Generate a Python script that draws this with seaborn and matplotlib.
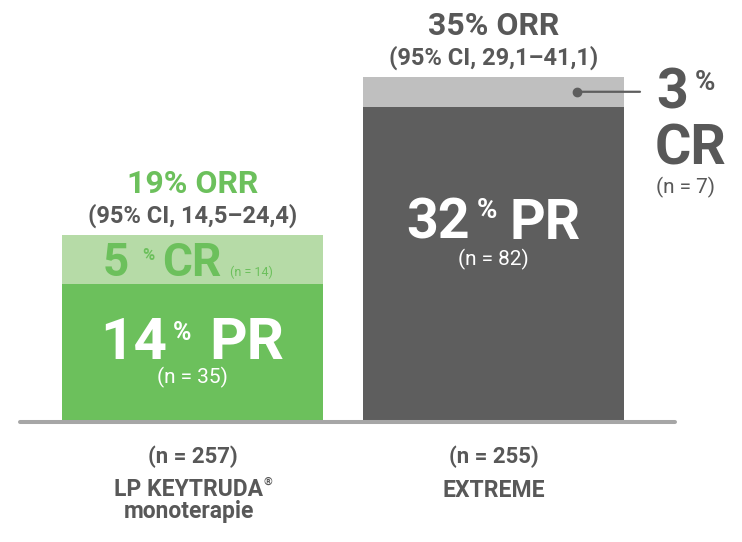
import matplotlib
matplotlib.use('Agg')
import matplotlib.pyplot as plt
from matplotlib.transforms import offset_copy
import seaborn as sns
import pandas as pd

''' DATA '''
groups = ['LP KEYTRUDA® monoterapie', 'EXTREME']
pr = [14, 32]            # partial response, %
cr = [5, 3]              # complete response, %
ci = ['14,5–24,4', '29,1–41,1']
n_pr = [35, 82]
n_cr = [14, 7]
n_total = [257, 255]

df = pd.DataFrame({'group': groups, 'PR': pr, 'CR': cr})
df['ORR'] = df['PR'] + df['CR']

''' STYLE '''
GREEN = '#6cc05c'
LIGHT_GREEN = '#b6dba7'
DARK_GRAY = '#5e5e5e'
LIGHT_GRAY = '#bfbfbf'
TXT = '#585858'
PX = 0.72   # points per pixel at dpi 100

sns.set_theme(style='white')
plt.rcParams['font.family'] = ['Roboto', 'DejaVu Sans']

fig = plt.figure(figsize=(7.42, 5.42), dpi=100)
ax = fig.add_axes([0, 0, 1, 1])

# stacked bars: total (CR colour) underneath, PR on top
sns.barplot(data=df, x='group', y='ORR', hue='group', palette=[LIGHT_GREEN, LIGHT_GRAY],
            width=0.867, saturation=1, legend=False, linewidth=0, ax=ax, zorder=1)
sns.barplot(data=df, x='group', y='PR', hue='group', palette=[GREEN, DARK_GRAY],
            width=0.867, saturation=1, legend=False, linewidth=0, ax=ax, zorder=2)

ax.set_xlim(-0.6395, 1.8256)
ax.set_ylim(-12.17, 42.81)
ax.axis('off')
ax.axhline(0, xmin=20 / 742, xmax=675 / 742, color='#a6a6a6', lw=2.9, zorder=3)


def label(x, y, s, dx=0, dy=0, **kw):
    '''text at data point (x, y) shifted by dx, dy pixels'''
    kw.setdefault('va', 'baseline')
    return ax.annotate(s, (x, y), xytext=(dx * PX, dy * PX),
                       textcoords='offset points', zorder=5, **kw)


# ORR headers above the bars
for i, row in df.iterrows():
    col = GREEN if i == 0 else TXT
    label(i, row['ORR'], f"{row['ORR']}% ORR", dy=42, ha='center',
          fontsize=23, fontweight='bold', color=col)
    label(i, row['ORR'], f'(95% CI, {ci[i]})', dy=12, ha='center',
          fontsize=17, fontweight='bold', color=TXT)
    label(i, 0, f'(n = {n_total[i]})', dy=-41, ha='center',
          fontsize=16, fontweight='bold', color=TXT)

# left bar: CR segment
label(0, pr[0], f'{cr[0]}', dx=-64, dy=8, ha='right', fontsize=33, fontweight='bold', color=GREEN)
label(0, pr[0], '%', dx=-50, dy=36, ha='left', va='top', fontsize=12, fontweight='bold', color=GREEN)
label(0, pr[0], 'CR', dx=-30, dy=8, ha='left', fontsize=33, fontweight='bold', color=GREEN)
label(0, pr[0], f'(n = {n_cr[0]})', dx=38, dy=8, ha='left', fontsize=9, color=GREEN)

# left bar: PR segment
mid = pr[0] / 2
label(0, mid, f'{pr[0]}', dx=-25.5, dy=-5.5, ha='right', fontsize=42, fontweight='bold', color='white')
label(0, mid, '%', dx=-19.5, dy=32.5, ha='left', va='top', fontsize=18, fontweight='bold', color='white')
label(0, mid, 'PR', dx=17, dy=-5.5, ha='left', fontsize=42, fontweight='bold', color='white')
label(0, mid, f'(n = {n_pr[0]})', dy=-30.5, ha='center', fontsize=15, color='white')

# right bar: PR segment
label(1, pr[1], f'{pr[1]}', dx=-23.5, dy=-132, ha='right', fontsize=40, fontweight='bold', color='white')
label(1, pr[1], '%', dx=-16.5, dy=-90, ha='left', va='top', fontsize=20, fontweight='bold', color='white')
label(1, pr[1], 'PR', dx=16, dy=-132, ha='left', fontsize=40, fontweight='bold', color='white')
label(1, pr[1], f'(n = {n_pr[1]})', dy=-159, ha='center', fontsize=15, color='white')

# right bar: CR call-out
cmid = pr[1] + cr[1] / 2
dot = offset_copy(ax.transData, fig=fig, x=83.5 * PX, y=0, units='points')
ax.plot([1], [cmid], 'o', ms=6, color=DARK_GRAY, transform=dot, zorder=5)
ax.annotate('', xy=(1, cmid), xytext=(146.5 * PX, 0), textcoords='offset points',
            arrowprops=dict(arrowstyle='-', color=DARK_GRAY, lw=1.6,
                            shrinkA=0, shrinkB=83.5 * PX), zorder=5)
label(1, cmid, f'{cr[1]}', dx=162.5, dy=-17, ha='left', fontsize=40, fontweight='bold', color=TXT)
label(1, cmid, '%', dx=201.5, dy=23, ha='left', va='top', fontsize=20, fontweight='bold', color=TXT)
label(1, cmid, 'CR', dx=161.5, dy=-73, ha='left', fontsize=40, fontweight='bold', color=TXT)
label(1, cmid, f'(n = {n_cr[1]})', dx=192.5, dy=-102, ha='center', fontsize=15, color=TXT)

# category names under the baseline
name_kw = dict(fontsize=16.5, fontweight='bold', color=TXT)
kt = label(0, 0, 'LP KEYTRUDA\nmonoterapie', dx=-4, dy=-56, ha='center', va='top',
           multialignment='center', linespacing=0.95, **name_kw)
ax.annotate('®', xy=(1, 1), xycoords=kt, xytext=(1 * PX, 1 * PX), textcoords='offset points',
            ha='left', va='top', fontsize=8, fontweight='bold', color=TXT)
label(1, 0, 'EXTREME', dy=-75, ha='center', **name_kw)

fig.savefig('out.png', dpi=100)
